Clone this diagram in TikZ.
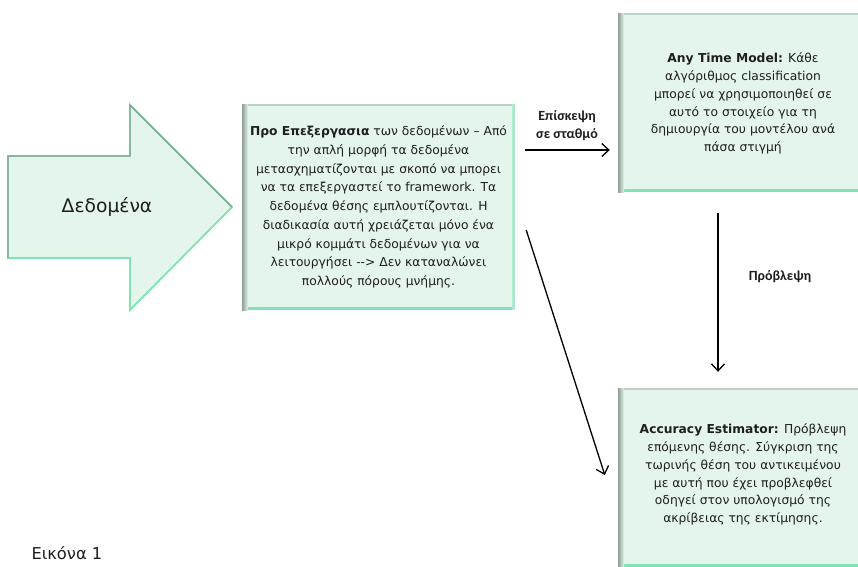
\documentclass[tikz,border=0pt]{standalone}
\usepackage{fontspec}
\setmainfont{DejaVu Sans}
\newfontfamily\labelfont{Carlito}
\usetikzlibrary{arrows.meta,calc}
\definecolor{boxfill}{HTML}{E4F5EC}
\definecolor{bevelshade}{HTML}{8E9E94}
\definecolor{bevelmint}{HTML}{7FE3B4}
\definecolor{beveltop}{HTML}{B9D2C3}
\definecolor{inktext}{HTML}{1E1E1E}
\begin{document}
\begin{tikzpicture}[x=1pt,y=-1pt,
  panel/.style={rectangle, inner sep=0pt, fill=boxfill, align=center,
    text=inktext, font=\fontsize{12.3}{17.8}\selectfont,
    path picture={
      \fill[bevelmint] (path picture bounding box.south west) rectangle ([yshift=3pt]path picture bounding box.south east);
      \fill[beveltop] (path picture bounding box.north west) rectangle ([yshift=-2pt]path picture bounding box.north east);
      \fill[bevelmint!55!boxfill] ([xshift=-3pt]path picture bounding box.south east) rectangle (path picture bounding box.north east);
      \shade[left color=bevelshade, right color=boxfill] (path picture bounding box.south west) rectangle ([xshift=6pt]path picture bounding box.north west);
    }},
  conn/.style={line width=1.3pt, -{Straight Barb[length=7pt,width=13pt,line width=1.3pt]}},
  edgelabel/.style={font=\labelfont\bfseries\fontsize{14}{18}\selectfont, text=inktext, align=center, inner sep=0pt},
]
\useasboundingbox (0,0) rectangle (858,566);

% input arrow
\filldraw[fill=boxfill, draw=bevelmint, line width=1.8pt, line join=miter]
  (8,156) -- (130,156) -- (130,105) -- (232,207) -- (130,310) -- (130,258) -- (8,258) -- cycle;
\draw[bevelshade, line width=1.4pt, line join=miter]
  (8,258) -- (8,156) -- (130,156) -- (130,105) -- (232,207);
\node[font=\fontsize{18.7}{22}\selectfont, text=inktext] (data) at (107,207) {Δεδομένα};

% processing panels
\node[panel, font=\fontsize{12.3}{18.7}\selectfont, minimum width=273pt, minimum height=206pt] (pre) at (378.5,207) {%
\textbf{Προ Επεξεργασια} των δεδομένων – Από\\
την απλή μορφή τα δεδομένα\\
μετασχηματίζονται με σκοπό να μπορει\\
να τα επεξεργαστεί το framework. Τα\\
δεδομένα θέσης εμπλουτίζονται. Η\\
διαδικασία αυτή χρειάζεται μόνο ένα\\
μικρό κομμάτι δεδομένων για να\\
λειτουργήσει -{}-{}> Δεν καταναλώνει\\
πολλούς πόρους μνήμης.};

\node[panel, minimum width=250pt, minimum height=179pt] (model) at (743,102.5) {%
\mbox{}\\[-6pt]
\textbf{Any Time Model:} Κάθε\\
αλγόριθμος classification\\
μπορεί να χρησιμοποιηθεί σε\\
αυτό το στοιχείο για τη\\
δημιουργία του μοντέλου ανά\\
πάσα στιγμή};

\node[panel, minimum width=250pt, minimum height=179pt] (est) at (743,477.5) {%
\mbox{}\\[-14pt]
\textbf{Accuracy Estimator:} Πρόβλεψη\\
επόμενης θέσης. Σύγκριση της\\
τωρινής θέση του αντικειμένου\\
με αυτή που έχει προβλεφθεί\\
οδηγεί στον υπολογισμό της\\
ακρίβειας της εκτίμησης.};

% connectors
\draw[conn] ($(pre.east)+(10,-57)$) -- ($(pre.east -| model.west)+(-8,-57)$);
\node[edgelabel] (visit) at (567,126) {Επίσκεψη\\σε σταθμό};

\draw[conn] ($(model.south)+(-25,21)$) -- ($(est.north)+(-25,-16)$);
\node[edgelabel] (predict) at (780,277) {Πρόβλεψη};

\draw[conn] ($(pre.east)+(11,23)$) -- ($(est.west)+(-13,-2.5)$);

% caption
\node[font=\fontsize{16.3}{18}\selectfont, text=inktext, anchor=west] (caption) at (28,553) {Εικόνα 1};
\end{tikzpicture}
\end{document}
